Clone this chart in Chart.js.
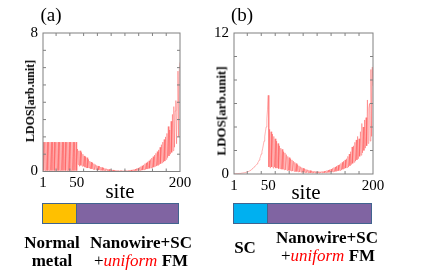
<!DOCTYPE html>
<html>
<head>
<meta charset="utf-8">
<script src="https://cdn.jsdelivr.net/npm/chart.js@4.4.0/dist/chart.umd.min.js"></script>
<style>
  html, body { margin: 0; padding: 0; background: #fff; }
  body { width: 436px; height: 276px; position: relative; overflow: hidden; color: #000; }
  .t { position: absolute; white-space: nowrap; transform: translate(-50%, -50%); line-height: 1; font-family: 'Liberation Serif', serif; }
  .b { font-weight: bold; }
  .rot { transform: translate(-50%, -50%) rotate(-90deg); }
  .red { color: #ff0000; font-style: italic; font-weight: normal; }
  .bar { position: absolute; height: 19px; border: 1.5px solid #41648f; background: #8064a2; }
  .bar div { position: absolute; left: 0; top: 0; bottom: 0; border-right: 1.5px solid #41648f; }
  canvas { position: absolute; top: 0; }
</style>
</head>
<body>
<canvas id="chartA" width="200" height="200" style="left:0;width:200px;height:200px"></canvas>
<canvas id="chartB" width="220" height="200" style="left:200px;width:220px;height:200px"></canvas>

<div class="t" style="left:51px;top:14px;font-size:19px">(a)</div>
<div class="t" style="left:242px;top:14px;font-size:19px">(b)</div>
<div class="t b rot" style="left:30px;top:101px;font-size:12px">LDOS[arb.unit]</div>
<div class="t b rot" style="left:221px;top:111px;font-size:13px">LDOS[arb.unit]</div>
<div class="t" style="left:120px;top:191px;font-size:21px">site</div>
<div class="t" style="left:306px;top:192px;font-size:21px">site</div>

<div class="bar" style="left:42px;top:203px;width:135px"><div style="width:33px;background:#ffc000"></div></div>
<div class="bar" style="left:233px;top:203px;width:137px"><div style="width:33px;background:#00b0f0"></div></div>

<div class="t b" style="left:52px;top:242px;font-size:17px">Normal</div>
<div class="t b" style="left:52px;top:260px;font-size:17px">metal</div>
<div class="t b" style="left:141px;top:242px;font-size:17px">Nanowire+SC</div>
<div class="t b" style="left:141px;top:260px;font-size:17px"><span style="font-weight:normal">+</span><span class="red">uniform</span> FM</div>
<div class="t b" style="left:245px;top:247px;font-size:17px">SC</div>
<div class="t b" style="left:327px;top:237px;font-size:17px">Nanowire+SC</div>
<div class="t b" style="left:328px;top:255px;font-size:17px"><span style="font-weight:normal">+</span><span class="red">uniform</span> FM</div>

<script>
// LDOS per site (site 1..200)
const ldosA = [
  1.7,0.05,1.7,0.05,1.7,0.05,1.7,0.05,1.7,0.05,
  1.7,0.05,1.7,0.05,1.7,0.05,1.7,0.05,1.7,0.05,
  1.7,0.05,1.7,0.05,1.7,0.05,1.7,0.05,1.7,0.05,
  1.7,0.05,1.7,0.05,1.7,0.05,1.7,0.05,1.7,0.05,
  1.7,0.05,1.7,0.05,1.7,0.05,1.7,0.05,1.7,0.05,
  1.3,0.4,1.2,0.3,1.2,0.35,1.1,0.3,1.0,0.3,
  0.9,0.25,0.85,0.2,0.8,0.2,0.7,0.2,0.6,0.15,
  0.55,0.15,0.5,0.12,0.45,0.1,0.4,0.1,0.35,0.08,
  0.32,0.08,0.3,0.07,0.26,0.06,0.24,0.05,0.2,0.05,
  0.18,0.04,0.16,0.04,0.14,0.03,0.13,0.03,0.12,0.03,
  0.1,0.03,0.09,0.02,0.08,0.02,0.07,0.02,0.06,0.02,
  0.06,0.02,0.05,0.02,0.05,0.02,0.05,0.02,0.05,0.02,
  0.05,0.02,0.06,0.02,0.07,0.02,0.08,0.03,0.09,0.03,
  0.1,0.03,0.12,0.04,0.14,0.04,0.17,0.05,0.2,0.05,
  0.24,0.06,0.28,0.07,0.33,0.08,0.38,0.1,0.45,0.12,
  0.5,0.14,0.56,0.16,0.62,0.18,0.7,0.2,0.78,0.22,
  0.86,0.25,0.95,0.3,1.05,0.32,1.15,0.35,1.25,0.4,
  1.4,0.45,1.55,0.5,1.7,0.55,1.85,0.6,2.0,0.7,
  2.2,0.8,2.6,0.9,2.4,1.0,2.9,1.1,3.3,1.2,
  3.75,1.4,3.5,4.1,1.6,4.0,5.8,2.0,5.9,6.3
];
const ldosB = [
  0.02,0.02,0.02,0.03,0.03,0.03,0.04,0.04,0.05,0.05,
  0.06,0.07,0.08,0.09,0.1,0.11,0.12,0.14,0.16,0.18,
  0.2,0.22,0.25,0.3,0.34,0.38,0.43,0.48,0.54,0.6,
  0.66,0.72,0.78,0.86,0.95,1.05,1.18,1.33,1.5,1.7,
  1.9,2.15,2.47,2.8,3.2,3.6,4.0,4.7,5.5,6.7,
  0.6,3.8,0.5,3.6,0.6,3.4,0.5,3.2,0.6,3.0,
  0.5,2.8,0.5,2.6,0.45,2.4,0.45,2.2,0.4,2.1,
  0.4,1.9,0.35,1.8,0.35,1.65,0.3,1.5,0.3,1.4,
  0.28,1.3,0.25,1.2,0.25,1.1,0.22,1.0,0.2,0.9,
  0.2,0.8,0.18,0.7,0.17,0.62,0.15,0.55,0.14,0.5,
  0.13,0.45,0.12,0.4,0.11,0.36,0.1,0.32,0.1,0.3,
  0.09,0.27,0.09,0.25,0.08,0.23,0.08,0.22,0.08,0.2,
  0.08,0.2,0.08,0.2,0.09,0.21,0.09,0.22,0.1,0.24,
  0.1,0.26,0.11,0.3,0.12,0.33,0.13,0.37,0.15,0.42,
  0.16,0.48,0.18,0.55,0.2,0.6,0.22,0.68,0.25,0.75,
  0.28,0.8,0.3,0.9,0.35,1.0,0.4,1.1,0.45,1.2,
  0.5,1.3,0.55,1.5,0.6,1.7,0.7,1.9,0.8,2.3,
  0.9,2.4,1.0,2.7,1.1,2.9,1.2,3.2,1.3,3.0,
  1.5,3.6,1.6,4.3,1.8,4.0,2.0,4.6,2.2,4.8,
  2.4,6.3,2.6,5.6,6.0,2.8,8.9,3.2,9.1,7.5
];

const xTickLabels = [1, 50, 200];
const xMinorTicks = [20, 40, 60, 80, 100, 120, 140, 160, 180];
const yTickLabelsA = [0, 8];
const yMinorA = [1, 2, 3, 4, 5, 6, 7];
const yTickLabelsB = [0, 12];
const yMinorB = [2, 4, 6, 8, 10];

Chart.defaults.font.family = "'Liberation Serif', serif";

// box frame + small inward ticks on all four sides
const frameTicks = {
  id: 'frameTicks',
  afterDraw(chart, args, opts) {
    const { ctx, chartArea: a, scales: { x, y } } = chart;
    ctx.save();
    ctx.strokeStyle = '#808080';
    ctx.lineWidth = 1;
    ctx.strokeRect(a.left, a.top, a.right - a.left, a.bottom - a.top);
    ctx.beginPath();
    opts.xTicks.forEach(v => {
      const px = x.getPixelForValue(v);
      ctx.moveTo(px, a.bottom); ctx.lineTo(px, a.bottom - 3);
      ctx.moveTo(px, a.top); ctx.lineTo(px, a.top + 3);
    });
    opts.yTicks.forEach(v => {
      const py = y.getPixelForValue(v);
      ctx.moveTo(a.left, py); ctx.lineTo(a.left + 3, py);
      ctx.moveTo(a.right, py); ctx.lineTo(a.right - 3, py);
    });
    ctx.stroke();
    ctx.restore();
  }
};

function makeChart(id, values, yMax, yLabels, yMinor, yWidth, padRight, xHeight) {
  const tickFont = { size: 15 };
  return new Chart(document.getElementById(id), {
    type: 'line',
    data: {
      datasets: [{
        data: values.map((v, i) => ({ x: i + 1, y: v })),
        borderColor: 'rgba(255, 60, 60, 0.55)',
        borderWidth: 0.7,
        pointRadius: 0,
        tension: 0
      }]
    },
    options: {
      responsive: false,
      animation: false,
      layout: { padding: { top: 33, right: padRight, left: 0, bottom: 0 } },
      plugins: {
        legend: { display: false },
        tooltip: { enabled: false },
        frameTicks: { xTicks: xMinorTicks, yTicks: yMinor }
      },
      scales: {
        x: {
          type: 'linear', min: 1, max: 200,
          afterBuildTicks: s => { s.ticks = xTickLabels.map(v => ({ value: v })); },
          afterFit: s => { s.height = xHeight; },
          ticks: { font: tickFont, color: '#000', padding: 3, maxRotation: 0, autoSkip: false },
          grid: { display: false, drawTicks: false },
          border: { display: false }
        },
        y: {
          min: 0, max: yMax,
          afterBuildTicks: s => { s.ticks = yLabels.map(v => ({ value: v })); },
          afterFit: s => { s.width = yWidth; },
          ticks: { font: tickFont, color: '#000', padding: 5, autoSkip: false },
          grid: { display: false, drawTicks: false },
          border: { display: false }
        }
      }
    },
    plugins: [frameTicks]
  });
}

makeChart('chartA', ldosA, 8, yTickLabelsA, yMinorA, 43, 20, 28.5);
makeChart('chartB', ldosB, 12, yTickLabelsB, yMinorB, 34, 47, 26);
</script>
</body>
</html>
